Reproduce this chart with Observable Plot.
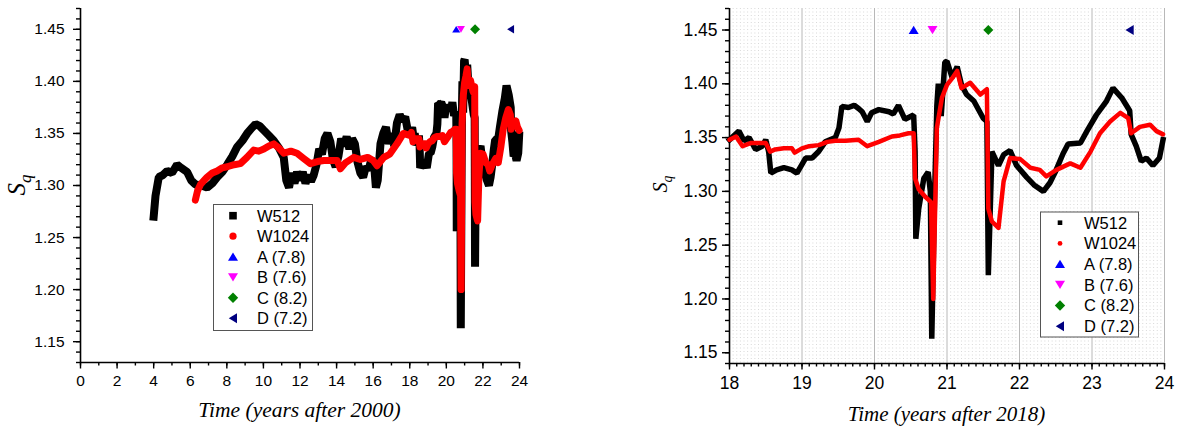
<!DOCTYPE html>
<html><head><meta charset="utf-8">
<script src="https://cdn.jsdelivr.net/npm/d3@7"></script>
<script src="https://cdn.jsdelivr.net/npm/@observablehq/plot@0.6"></script>
<style>
body{margin:0;background:#fff;}
#wrap{position:relative;width:1179px;height:427px;overflow:hidden;background:#fff;}
#left{position:absolute;left:0;top:0;}
#right{position:absolute;left:600px;top:0;}
#overlay{position:absolute;left:0;top:0;}
</style></head><body>
<div id="wrap"><div id="left"></div><div id="right"></div><svg id="overlay" width="1179" height="427"></svg></div>
<script>
// ---- data (time in years, Sq) ----
const w512 = [
[4.0,1.27],[4.1,1.29],[4.28,1.308],[4.5,1.31],[4.74,1.314],[5.0,1.312],[5.28,1.32],[5.5,1.317],[5.83,1.313],
[6.05,1.305],[6.28,1.301],[6.6,1.300],[6.92,1.298],[7.2,1.302],[7.47,1.308],[7.75,1.313],[8.02,1.32],[8.3,1.328],
[8.56,1.337],[8.85,1.343],[9.11,1.35],[9.35,1.355],[9.57,1.359],[9.8,1.357],[10.02,1.353],[10.3,1.348],[10.57,1.343],
[10.85,1.336],[11.11,1.327],[11.25,1.305],[11.4,1.298],[11.55,1.312],[11.7,1.302],[11.84,1.313],[12.0,1.305],[12.15,1.313],
[12.3,1.302],[12.45,1.31],[12.6,1.304],[12.75,1.31],[12.9,1.32],[13.05,1.335],[13.2,1.33],[13.35,1.345],[13.5,1.35],
[13.66,1.342],[13.8,1.325],[13.95,1.318],[14.1,1.328],[14.25,1.345],[14.4,1.338],[14.55,1.347],[14.7,1.335],[14.85,1.345],
[15.0,1.34],[15.15,1.322],[15.3,1.312],[15.45,1.308],[15.6,1.318],[15.75,1.315],[15.9,1.325],[16.05,1.32],[16.15,1.298],
[16.25,1.305],[16.4,1.34],[16.55,1.35],[16.7,1.356],[16.85,1.34],[17.0,1.35],[17.15,1.338],[17.3,1.36],[17.45,1.368],
[17.6,1.362],[17.75,1.366],[17.9,1.352],
[18.0,1.348],[18.13,1.356],[18.2,1.347],[18.27,1.350],[18.36,1.339],[18.45,1.342],[18.5,1.348],[18.54,1.337],[18.57,1.317],
[18.65,1.320],[18.75,1.322],[18.86,1.320],[18.93,1.317],[19.05,1.331],[19.14,1.331],[19.23,1.337],[19.32,1.346],[19.46,1.350],
[19.51,1.359],[19.55,1.379],[19.64,1.378],[19.72,1.380],[19.78,1.377],[19.83,1.374],[19.9,1.365],[19.96,1.373],[20.06,1.376],[20.2,1.374],
[20.26,1.372],[20.33,1.380],[20.42,1.367],[20.54,1.371],[20.56,1.337],[20.57,1.256],[20.61,1.284],[20.68,1.312],[20.74,1.318],[20.77,1.30],
[20.79,1.163],[20.83,1.30],[20.86,1.38],[20.88,1.40],[20.92,1.37],[20.97,1.42],[21.0,1.421],[21.07,1.406],[21.14,1.416],
[21.2,1.399],[21.27,1.39],[21.37,1.384],[21.5,1.368],[21.55,1.365],[21.57,1.222],[21.62,1.337],[21.71,1.324],[21.78,1.334],
[21.87,1.338],[21.96,1.324],[22.1,1.313],[22.2,1.306],[22.33,1.300],[22.42,1.308],[22.5,1.319],[22.6,1.335],[22.67,1.344],
[22.84,1.345],[22.93,1.356],[23.06,1.371],[23.2,1.384],[23.29,1.396],[23.41,1.387],[23.52,1.375],[23.54,1.353],[23.61,1.342],
[23.68,1.328],[23.75,1.331],[23.84,1.324],[23.93,1.331],[23.98,1.348]
];
const w1024 = [
[6.28,1.286],[6.4,1.295],[6.56,1.301],[6.92,1.308],[7.2,1.312],[7.47,1.314],[7.75,1.317],[8.02,1.318],[8.4,1.32],[8.74,1.321],
[9.1,1.327],[9.47,1.334],[9.75,1.333],[10.02,1.335],[10.3,1.338],[10.57,1.34],[10.85,1.336],[11.11,1.331],[11.5,1.333],
[11.84,1.331],[12.2,1.326],[12.57,1.321],[12.95,1.323],[13.3,1.324],[13.66,1.324],[14.03,1.324],[14.21,1.316],[14.5,1.322],
[14.94,1.327],[15.3,1.325],[15.7,1.327],[16.0,1.324],[16.21,1.319],[16.58,1.327],[16.9,1.33],[17.3,1.340],[17.65,1.35],
[18.0,1.348],[18.09,1.351],[18.18,1.342],[18.3,1.345],[18.5,1.345],[18.56,1.337],[18.63,1.339],[18.75,1.340],[18.86,1.340],
[18.9,1.336],[19.0,1.340],[19.1,1.342],[19.23,1.343],[19.35,1.346],[19.46,1.347],[19.6,1.347],[19.78,1.348],[19.9,1.342],
[20.06,1.346],[20.24,1.351],[20.35,1.352],[20.47,1.354],[20.54,1.354],[20.56,1.312],[20.61,1.302],[20.70,1.295],[20.78,1.29],
[20.81,1.20],[20.86,1.359],[20.93,1.387],[21.0,1.399],[21.07,1.405],[21.14,1.412],[21.2,1.396],[21.32,1.401],[21.46,1.39],
[21.55,1.395],[21.57,1.284],[21.62,1.272],[21.71,1.266],[21.78,1.309],[21.87,1.331],[22.01,1.330],[22.15,1.322],[22.28,1.320],
[22.37,1.314],[22.51,1.320],[22.7,1.326],[22.84,1.322],[22.98,1.337],[23.11,1.354],[23.25,1.365],[23.39,1.373],[23.5,1.368],
[23.54,1.354],[23.66,1.360],[23.8,1.362],[23.89,1.356],[23.98,1.353]
];
const eventNames = ["A (7.8)","B (7.6)","C (8.2)","D (7.2)"];
const eventTimes = [20.54, 20.80, 21.57, 23.52];
const eventLevels = [1.45, 1.45, 1.45, 1.45];
const seriesNames = ["W512","W1024"];
const yTicks = [1.15,1.20,1.25,1.30,1.35,1.40,1.45];
const leftXTicks = [0,2,4,6,8,10,12,14,16,18,20,22,24];
const rightXTicks = [18,19,20,21,22,23,24];
const leftXTitle = "Time (years after 2000)";
const rightXTitle = "Time (years after 2018)";

// ---- styles ----
const eventColors = ["#0000ff","#ff00ff","#008000","#000080"];
const symUp = {draw(c,s){const h=Math.sqrt(s/Math.PI);c.moveTo(0,-h*0.85);c.lineTo(h,h*0.8);c.lineTo(-h,h*0.8);c.closePath();}};
const symDown = {draw(c,s){const h=Math.sqrt(s/Math.PI);c.moveTo(0,h*0.85);c.lineTo(h,-h*0.8);c.lineTo(-h,-h*0.8);c.closePath();}};
const symDiamond = {draw(c,s){const h=Math.sqrt(s/Math.PI);c.moveTo(0,-h);c.lineTo(h,0);c.lineTo(0,h);c.lineTo(-h,0);c.closePath();}};
const symLeft = {draw(c,s){const h=Math.sqrt(s/Math.PI);c.moveTo(-h*0.85,0);c.lineTo(h*0.8,-h);c.lineTo(h*0.8,h);c.closePath();}};
const symSquare = {draw(c,s){const h=Math.sqrt(s/Math.PI);c.rect(-h,-h,2*h,2*h);}};
const eventSymbols = [symUp, symDown, symDiamond, symLeft];
const events = eventNames.map((n,i)=>({name:n,t:eventTimes[i],v:eventLevels[i]}));

function eventMarks(evR){
  return events.map((e,i)=>Plot.dot([e],{x:"t",y:"v",symbol:eventSymbols[i],fill:eventColors[i],stroke:"none",r:evR[i]}));
}

function panel(cfg){
  const data512 = w512.filter(d=>d[0]>=cfg.xDomain[0]);
  const data1024 = w1024.filter(d=>d[0]>=cfg.xDomain[0]);
  const yMinor = d3.range(Math.round(cfg.yDomain[0]*100), Math.round(cfg.yDomain[1]*100)+1).map(i=>i/100);
  const marks = [];
  if (cfg.grid){
    marks.push(Plot.ruleX(cfg.gridMinor,{stroke:"#d9d9d9",strokeWidth:1,strokeDasharray:"1,2.5"}));
    marks.push(Plot.ruleX(cfg.xTicks.slice(1),{stroke:"#b8b8b8",strokeWidth:1}));
  }
  marks.push(
    Plot.axisY({ticks:yMinor,tickSize:4,tickFormat:()=>"",label:null,strokeWidth:1.4}),
    Plot.axisY({ticks:yTicks,tickSize:7,tickPadding:cfg.yPad,tickFormat:d3.format(".2f"),label:null,strokeWidth:1.4,fontSize:cfg.tickFont}),
    Plot.axisX({ticks:cfg.xMinor,tickSize:3.5,tickFormat:()=>"",label:null,strokeWidth:1.4}),
    Plot.axisX({ticks:cfg.xTicks,tickSize:6.5,tickPadding:cfg.xPad,tickFormat:d=>String(d),label:null,strokeWidth:1.4,fontSize:cfg.tickFont}),
    Plot.ruleX([cfg.xDomain[0]],{stroke:"#000",strokeWidth:1.6}),
    Plot.ruleY([cfg.yDomain[0]],{stroke:"#000",strokeWidth:1.6}),
    Plot.line(data512,{x:d=>d[0],y:d=>d[1],stroke:"#000",strokeWidth:cfg.bw,strokeLinejoin:"miter",strokeLinecap:"square"}),
    Plot.line(data1024,{x:d=>d[0],y:d=>d[1],stroke:"#ff0000",strokeWidth:cfg.rw,strokeLinejoin:"round",strokeLinecap:"round"}),
    ...eventMarks(cfg.evR)
  );
  const svg = Plot.plot({
    width:cfg.width, height:427,
    marginLeft:cfg.ml, marginRight:cfg.mr, marginTop:8, marginBottom:cfg.mb,
    x:{domain:cfg.xDomain},
    y:{domain:cfg.yDomain},
    style:{fontFamily:cfg.tickFamily,fontSize:cfg.tickFont+"px",color:"#000",background:"transparent",overflow:"visible"},
    marks
  });
  const s = d3.select(svg);
  s.append("text").attr("x",(cfg.ml+cfg.width-cfg.mr)/2).attr("y",cfg.titleY)
    .attr("text-anchor","middle").attr("font-family","'Liberation Serif','Times New Roman',serif")
    .attr("font-style","italic").attr("font-size",cfg.titleFont).attr("fill","#000").text(cfg.xTitle);
  const yt = s.append("text").attr("transform",`translate(${cfg.yLabX},${cfg.yLabY}) rotate(-90)`)
    .attr("text-anchor","middle").attr("font-family","'Liberation Serif','Times New Roman',serif")
    .attr("font-style","italic").attr("font-size",cfg.yLabFont).attr("fill","#000");
  yt.append("tspan").text("S");
  yt.append("tspan").attr("font-size",cfg.yLabFont*0.68).attr("dy",cfg.yLabFont*0.25).text("q");
  return svg;
}

document.getElementById("left").appendChild(panel({
  width:600, ml:80, mr:81, mb:65, xDomain:[0,24], yDomain:[1.13,1.47],
  xTicks:leftXTicks, xMinor:d3.range(0,25), grid:false,
  tickFamily:"'Liberation Sans Narrow','Liberation Sans',Arial,sans-serif", tickFont:15.5, yPad:9, xPad:6,
  bw:8, rw:7, evR:[4,4,5,4.2],
  xTitle:leftXTitle, titleY:416.5, titleFont:21.5,
  yLabX:25, yLabY:185, yLabFont:25
}));
document.getElementById("right").appendChild(panel({
  width:579, ml:129, mr:15, mb:64, xDomain:[18,24], yDomain:[1.14,1.47],
  xTicks:rightXTicks, xMinor:d3.range(180,241).map(i=>i/10), grid:true,
  gridMinor:d3.range(361,480).map(i=>i/20).filter(v=>Math.abs(v-Math.round(v))>1e-6),
  tickFamily:"'Liberation Sans',Arial,sans-serif", tickFont:17.5, yPad:5, xPad:7,
  bw:5.5, rw:4.5, evR:[5,5,5,5],
  xTitle:rightXTitle, titleY:420.5, titleFont:21,
  yLabX:667-600, yLabY:184, yLabFont:20
}));

// ---- legends ----
function legend(g, box, rowY, step, symX, textX, sizes){
  g.append("rect").attr("x",box[0]+0.5).attr("y",box[1]+0.5).attr("width",box[2]).attr("height",box[3])
    .attr("fill","#fff").attr("stroke","#555").attr("stroke-width",1);
  const names = [...seriesNames, ...eventNames];
  const syms = [symSquare, {draw(c,s){const h=Math.sqrt(s/Math.PI);c.moveTo(h,0);c.arc(0,0,h,0,2*Math.PI);}}, ...eventSymbols];
  const cols = ["#000","#ff0000",...eventColors];
  names.forEach((n,i)=>{
    const y = rowY + i*step;
    g.append("path").attr("transform",`translate(${symX},${y})`)
      .attr("d", d3.symbol(syms[i], sizes[i]*sizes[i]*Math.PI)()).attr("fill",cols[i]);
    g.append("text").attr("x",textX).attr("y",y).attr("dy","0.36em")
      .attr("font-family","'Liberation Sans',Arial,sans-serif").attr("font-size",16.5).attr("fill","#000").text(n);
  });
}
const ov = d3.select("#overlay");
legend(ov.append("g"), [213,204,99,126], 215.7, 20.5, 233, 257, [3.8,3.6,5,5,5.2,5]);
legend(ov.append("g"), [1040,211.5,98,125], 222.7, 20.7, 1060, 1084, [2.3,2.4,5,5,5.2,5]);
</script>
</body></html>
